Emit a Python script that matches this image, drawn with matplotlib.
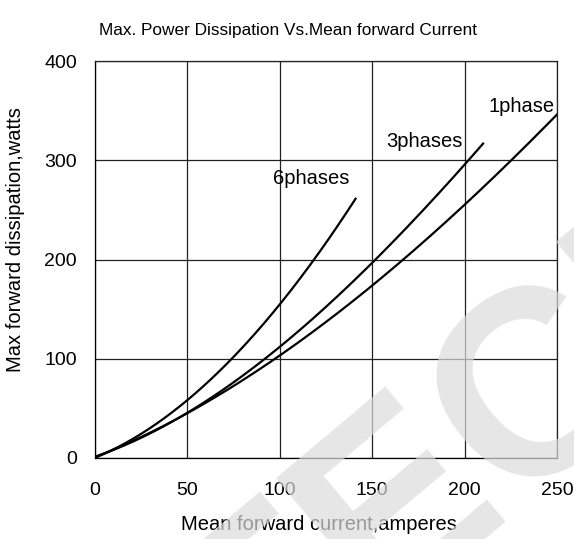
import matplotlib
matplotlib.use("Agg")
import matplotlib.pyplot as plt
import numpy as np

plt.rcParams['font.family'] = ['Liberation Sans', 'DejaVu Sans']

# точки кривых (ток, А -> мощность, Вт)
x_1phase = [0, 25, 50, 75, 100, 125, 150, 166, 200, 227, 250]
y_1phase = [0, 22, 46, 73, 102, 136, 173, 200, 258, 300, 347]

x_3phase = [0, 25, 50, 75, 95, 100, 125, 151, 180, 202, 210]
y_3phase = [0, 22, 47, 77, 100, 112, 153, 200, 255, 300, 316]

x_6phase = [0, 25, 50, 74, 100, 118, 130, 141]
y_6phase = [0, 25, 58, 100, 154, 200, 230, 261]

labels = ["1phase", "3phases", "6phases"]
label_x = [231, 178, 117]
label_y = [349, 313, 276]

x_ticks = [0, 50, 100, 150, 200, 250]
y_ticks = [0, 100, 200, 300, 400]


def smooth(xs, ys):
    xx = np.linspace(xs[0], xs[-1], 200)
    cf = np.polyfit(xs, ys, 3)
    return xx, np.polyval(cf, xx)


W, H = 574, 539
fig = plt.figure(figsize=(W / 100, H / 100), dpi=100)
ax = fig.add_axes([95 / W, 1 - 458 / H, 462 / W, 397 / H])

for xs, ys in [(x_1phase, y_1phase), (x_3phase, y_3phase), (x_6phase, y_6phase)]:
    xx, yy = smooth(xs, ys)
    ax.plot(xx, yy, color="black", lw=1.6, zorder=3)

for t, lx, ly in zip(labels, label_x, label_y):
    ax.text(lx, ly, t, fontsize=14.5, ha="center", va="baseline", zorder=4)

ax.set_xlim(0, 250)
ax.set_ylim(0, 400)
ax.set_xticks(x_ticks)
ax.set_yticks(y_ticks)
ax.tick_params(length=0, labelsize=14)
ax.tick_params(axis="x", pad=17)
ax.tick_params(axis="y", pad=13)
ax.grid(True, color="#222222", lw=0.9)
for s in ax.spines.values():
    s.set_color("#222222")
    s.set_linewidth(0.9)
ax.spines["left"].set_color("black")
ax.spines["bottom"].set_color("black")

# подписи осей и заголовок
fig.text(319 / W, 1 - 525 / H, "Mean forward current,amperes",
         fontsize=14.5, ha="center", va="center")
fig.text(16 / W, 1 - 240 / H, "Max forward dissipation,watts",
         fontsize=14.5, ha="center", va="center", rotation=90)
fig.text(288 / W, 1 - 30 / H, "Max. Power Dissipation Vs.Mean forward Current",
         fontsize=12.4, ha="center", va="center")

# водяной знак
fig.text(0.847, 0.171, "TECH", fontsize=190, color="#dcdcdc", alpha=0.7,
         rotation=40, ha="center", va="center", fontweight="bold", zorder=10)

fig.savefig("out.png", dpi=100)
